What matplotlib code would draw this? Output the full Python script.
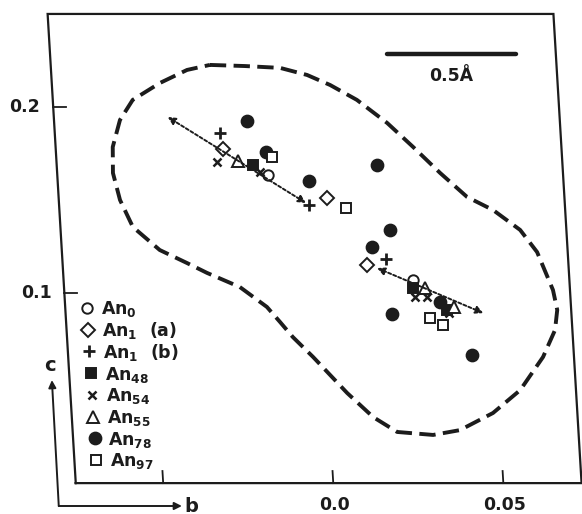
import numpy as np
import matplotlib.pyplot as plt
import matplotlib as mpl
from matplotlib.transforms import Affine2D

mpl.rcParams.update({
    'font.family': ['DejaVu Sans'],
    'font.weight': 'bold',
    'mathtext.fontset': 'custom',
    'mathtext.rm': 'DejaVu Sans:bold',
    'mathtext.it': 'DejaVu Sans:bold',
    'mathtext.bf': 'DejaVu Sans:bold',
})

INK = '#1c1c1c'

# ── oblique b-c frame (triclinic axes) ───────────────────────────────────────
SKEW = 0.0328                     # b shift per unit c (non-orthogonal b, c)
B_MIN, B_MAX = -0.0757, 0.073
C_MIN, C_MAX = -0.0022, 0.25
B_TICKS = [-0.05, 0.0, 0.05]
B_TICK_LABELS = ['', '0.0', '0.05']
C_TICKS = [0.1, 0.2]
C_TICK_LABELS = ['0.1', '0.2']

# ── data: (b, c) positions ───────────────────────────────────────────────────
an0_b = [-0.0138, 0.0270]
an0_c = [0.1634, 0.1070]

an1a_b = [-0.0265, 0.0032, 0.0138]
an1a_c = [0.1774, 0.1511, 0.1151]

an1b_b = [-0.0271, -0.0022, 0.0195]
an1b_c = [0.1860, 0.1473, 0.1183]

an48_b = [-0.0180, 0.0269, 0.0365]
an48_c = [0.1688, 0.1027, 0.0909]

an54_b = [-0.0285, -0.0161, 0.0273, 0.0309, 0.0371]
an54_c = [0.1704, 0.1650, 0.0978, 0.0978, 0.0892]

an55_b = [-0.0223, 0.0304, 0.0386]
an55_c = [0.1710, 0.1027, 0.0925]

an78_b = [-0.0190, -0.0139, -0.0018, 0.0185, 0.0212, 0.0156, 0.0203, 0.0346, 0.0431]
an78_c = [0.1925, 0.1758, 0.1602, 0.1688, 0.1339, 0.1247, 0.0887, 0.0952, 0.0667]

an97_b = [-0.0123, 0.0086, 0.0314, 0.0351]
an97_c = [0.1731, 0.1457, 0.0866, 0.0828]

# dotted double arrows (start, end)
arrow1_b, arrow1_c = [-0.0422, -0.0031], [0.1946, 0.1484]
arrow2_b, arrow2_c = [0.0167, 0.0471], [0.1134, 0.0892]

# dashed envelope
env_b = [-0.0289, -0.0186, -0.0083, -0.0005, 0.0061, 0.0137, 0.0222, 0.0294,
         0.0369, 0.0444, 0.0518, 0.0594, 0.0640, 0.0680, 0.0689, 0.0679,
         0.0639, 0.0566, 0.0482, 0.0382, 0.0302, 0.0197, 0.0129, 0.0057,
         -0.0037, -0.0093, -0.0128, -0.0164, -0.0240, -0.0334, -0.0391,
         -0.0469, -0.0544, -0.0577, -0.0593, -0.0589, -0.0563, -0.0522,
         -0.0439, -0.0357, -0.0289]
env_c = [0.2226, 0.2220, 0.2210, 0.2172, 0.2118, 0.2038, 0.1914, 0.1785,
         0.1645, 0.1516, 0.1446, 0.1339, 0.1220, 0.1016, 0.0909, 0.0801,
         0.0656, 0.0478, 0.0355, 0.0263, 0.0237, 0.0253, 0.0333, 0.0462,
         0.0656, 0.0763, 0.0844, 0.0925, 0.1032, 0.1108, 0.1161, 0.1231,
         0.1355, 0.1500, 0.1645, 0.1785, 0.1930, 0.2038, 0.2129, 0.2199,
         0.2226]

series = [
    ('An$_0$',      an0_b,  an0_c,  dict(marker='o', ms=7.5, mfc='white', mew=1.4)),
    ('An$_1$  (a)', an1a_b, an1a_c, dict(marker='D', ms=7,   mfc='white', mew=1.4)),
    ('An$_1$  (b)', an1b_b, an1b_c, dict(marker='+', ms=9,   mew=2.0)),
    ('An$_{48}$',   an48_b, an48_c, dict(marker='s', ms=7.5, mfc=INK, mew=1.4)),
    ('An$_{54}$',   an54_b, an54_c, dict(marker='x', ms=6,   mew=1.8)),
    ('An$_{55}$',   an55_b, an55_c, dict(marker='^', ms=8.5, mfc='white', mew=1.4)),
    ('An$_{78}$',   an78_b, an78_c, dict(marker='o', ms=8.5, mfc=INK, mew=1.4)),
    ('An$_{97}$',   an97_b, an97_c, dict(marker='s', ms=7.5, mfc='white', mew=1.4)),
]

# ── figure ───────────────────────────────────────────────────────────────────
fig = plt.figure(figsize=(5.82, 5.14), dpi=100)
ax = fig.add_axes([0, 0, 1, 1])
ax.set_xlim(-0.0979, 0.0732)
ax.set_ylim(-0.0188, 0.2575)
ax.axis('off')

tr = Affine2D(np.array([[1, -SKEW, 0], [0, 1, 0], [0, 0, 1]])) + ax.transData

# frame
fb = [B_MIN, B_MAX, B_MAX, B_MIN, B_MIN]
fc = [C_MIN, C_MIN, C_MAX, C_MAX, C_MIN]
ax.plot(fb, fc, color=INK, lw=1.6, transform=tr, solid_joinstyle='miter')

# ticks
for b, lab in zip(B_TICKS, B_TICK_LABELS):
    ax.plot([b, b], [C_MIN, C_MIN + 0.0065], color=INK, lw=1.3, transform=tr)
    if lab:
        ax.text(b, -0.0138, lab, transform=tr, ha='center', va='center',
                fontsize=12.5, color=INK)
for c, lab in zip(C_TICKS, C_TICK_LABELS):
    ax.plot([B_MIN, B_MIN + 0.0038], [c, c], color=INK, lw=1.3, transform=tr)
    ax.text(B_MIN - 0.0038, c, lab, transform=tr, ha='right', va='center',
            fontsize=12.5, color=INK)

# envelope
ax.plot(env_b, env_c, color=INK, lw=2.8, dashes=(4.2, 1.9), transform=tr,
        dash_capstyle='butt')

# arrows
for ab, ac in [(arrow1_b, arrow1_c), (arrow2_b, arrow2_c)]:
    ax.annotate('', xy=(ab[0], ac[0]), xytext=(ab[1], ac[1]),
                xycoords=tr, textcoords=tr,
                arrowprops=dict(arrowstyle='<|-|>', color=INK, lw=1.4,
                                linestyle=(0, (1.6, 1.2)),
                                mutation_scale=11, shrinkA=0, shrinkB=0))

# points
for label, b, c, kw in series:
    ax.plot(b, c, ls='none', color=INK, mec=INK, transform=tr, **kw)

# hand-drawn legend along the c axis
LEG_B = -0.0694
LEG_C0, LEG_DC = 0.0919, 0.01167
for i, (label, b, c, kw) in enumerate(series):
    cy = LEG_C0 - i * LEG_DC
    ax.plot([LEG_B], [cy], ls='none', color=INK, mec=INK, transform=tr, **kw)
    ax.text(LEG_B + 0.0040, cy - 0.0034, label, transform=tr, ha='left',
            va='baseline', fontsize=12.5, color=INK)

# scale bar
BAR_U = [0.0159, 0.0538]
BAR_C = 0.2285
ax.plot(BAR_U, [BAR_C, BAR_C], color=INK, lw=3.2, solid_capstyle='round')
ax.text(np.mean(BAR_U), 0.2168, '0.5Å', ha='center', va='center',
        fontsize=12.5, color=INK)

# b, c direction arrows
ORIG_B, ORIG_C = -0.0811, -0.0145
ax.annotate('', xy=(-0.0449, ORIG_C), xytext=(ORIG_B, ORIG_C),
            xycoords=tr, textcoords=tr,
            arrowprops=dict(arrowstyle='-|>', color=INK, lw=1.4,
                            mutation_scale=11, shrinkA=0, shrinkB=0))
ax.annotate('', xy=(-0.0809, 0.0532), xytext=(ORIG_B, ORIG_C),
            xycoords=tr, textcoords=tr,
            arrowprops=dict(arrowstyle='-|>', color=INK, lw=1.4,
                            mutation_scale=11, shrinkA=0, shrinkB=0))
ax.text(-0.0442, -0.0145, 'b', transform=tr, ha='left', va='center',
        fontsize=14, color=INK)
ax.text(-0.0812, 0.0608, 'c', transform=tr, ha='center', va='center',
        fontsize=14, color=INK)

fig.savefig('out.png', dpi=100)
